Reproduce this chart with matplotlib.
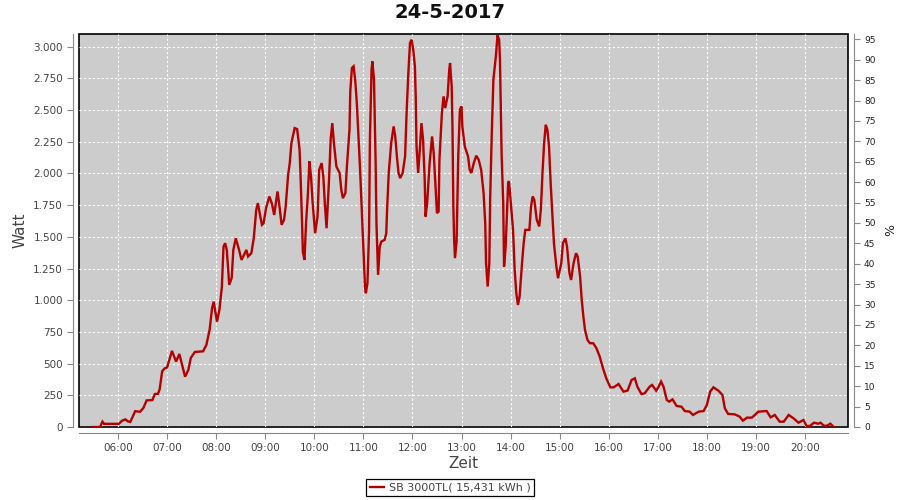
import numpy as np
import matplotlib
matplotlib.use("Agg")
import matplotlib.pyplot as plt
from matplotlib.ticker import FuncFormatter, MultipleLocator

# values (time of day, watt)
times = ["05:29", "05:38", "05:41", "05:43", "06:01", "06:05", "06:09", "06:12", "06:15", "06:21",
         "06:27", "06:31", "06:35", "06:42", "06:45", "06:49", "06:51", "06:54", "06:57", "07:00",
         "07:04", "07:06", "07:11", "07:15", "07:18", "07:22", "07:26", "07:29", "07:34", "07:44",
         "07:48", "07:52", "07:55", "07:57", "08:01", "08:04", "08:07", "08:09", "08:11", "08:13",
         "08:16", "08:19", "08:21", "08:24", "08:28", "08:31", "08:37", "08:39", "08:43", "08:46",
         "08:49", "08:51", "08:54", "08:56", "08:58", "09:01", "09:05", "09:08", "09:11", "09:15",
         "09:17", "09:20", "09:23", "09:25", "09:28", "09:30", "09:32", "09:36", "09:39", "09:42",
         "09:43", "09:45", "09:46", "09:48", "09:50", "09:52", "09:54", "09:56", "09:58", "10:01",
         "10:04", "10:06", "10:09", "10:11", "10:13", "10:15", "10:18", "10:20", "10:22", "10:24",
         "10:27", "10:31", "10:33", "10:35", "10:38", "10:40", "10:43", "10:44", "10:46", "10:48",
         "10:50", "10:52", "10:54", "10:56", "10:58", "11:00", "11:02", "11:03", "11:05", "11:07",
         "11:08", "11:10", "11:11", "11:13", "11:15", "11:16", "11:18", "11:20", "11:22", "11:26",
         "11:28", "11:29", "11:31", "11:34", "11:37", "11:39", "11:41", "11:43", "11:45", "11:48",
         "11:51", "11:53", "11:55", "11:57", "11:59", "12:01", "12:03", "12:04", "12:05", "12:07",
         "12:09", "12:11", "12:13", "12:15", "12:16", "12:18", "12:21", "12:24", "12:26", "12:28",
         "12:30", "12:32", "12:33", "12:36", "12:38", "12:40", "12:43", "12:45", "12:46", "12:48",
         "12:49", "12:50", "12:51", "12:52", "12:54", "12:56", "12:58", "13:00", "13:01", "13:04",
         "13:08", "13:10", "13:12", "13:15", "13:18", "13:21", "13:24", "13:27", "13:29", "13:30",
         "13:32", "13:34", "13:35", "13:37", "13:39", "13:42", "13:44", "13:46", "13:47", "13:49",
         "13:51", "13:52", "13:54", "13:57", "13:58", "14:00", "14:03", "14:05", "14:07", "14:09",
         "14:11", "14:14", "14:16", "14:18", "14:23", "14:25", "14:27", "14:29", "14:32", "14:35",
         "14:37", "14:39", "14:41", "14:43", "14:45", "14:47", "14:49", "14:51", "14:53", "14:56",
         "14:58", "15:02", "15:04", "15:07", "15:09", "15:12", "15:14", "15:17", "15:20", "15:22",
         "15:25", "15:27", "15:29", "15:31", "15:34", "15:37", "15:41", "15:45", "15:49", "15:53",
         "15:57", "16:02", "16:06", "16:12", "16:18", "16:23", "16:28", "16:32", "16:35", "16:40",
         "16:44", "16:50", "16:53", "16:58", "17:01", "17:04", "17:07", "17:11", "17:14", "17:18",
         "17:23", "17:29", "17:33", "17:39", "17:43", "17:50", "17:56", "18:00", "18:04", "18:08",
         "18:14", "18:19", "18:22", "18:26", "18:34", "18:40", "18:44", "18:49", "18:55", "19:03",
         "19:13", "19:18", "19:23", "19:29", "19:34", "19:40", "19:46", "19:52", "19:58", "20:02",
         "20:06", "20:11", "20:16", "20:19", "20:23", "20:27", "20:31", "20:35"]
watt = [0, 0, 42, 25, 25, 50, 60, 45, 40, 125,
        120, 150, 210, 212, 260, 262, 300, 440, 462, 470,
        555, 600, 516, 576, 500, 397, 450, 545, 592, 597,
        647, 766, 937, 989, 831, 924, 1108, 1423, 1450, 1397,
        1121, 1176, 1397, 1489, 1397, 1318, 1397, 1345, 1371, 1489,
        1713, 1766, 1660, 1595, 1608, 1726, 1818, 1766, 1673, 1858,
        1766, 1595, 1634, 1739, 1989, 2082, 2239, 2358, 2350, 2187,
        2016, 1621, 1384, 1318, 1621, 1818, 2095, 1976, 1766, 1529,
        1660, 2029, 2082, 1976, 1753, 1568, 1950, 2266, 2397, 2239,
        2055, 2003, 1871, 1805, 1845, 2068, 2345, 2647, 2832, 2845,
        2740, 2555, 2292, 2029, 1713, 1411, 1108, 1055, 1134, 1555,
        2266, 2818, 2884, 2740, 2082, 1608, 1200, 1423, 1463, 1476,
        1529, 1713, 2003, 2239, 2371, 2292, 2134, 2003, 1963, 2003,
        2134, 2503, 2792, 3029, 3055, 2976, 2845, 2608, 2213, 2003,
        2187, 2397, 2266, 1950, 1660, 1766, 2082, 2292, 2160, 1924,
        1687, 1700, 2108, 2476, 2608, 2516, 2608, 2818, 2871, 2687,
        2345, 1739, 1476, 1332, 1463, 2134, 2503, 2529, 2371, 2213,
        2134, 2029, 2003, 2082, 2140, 2108, 2029, 1845, 1608, 1292,
        1108, 1292, 1792, 2318, 2740, 2924, 3090, 3055, 2897, 2160,
        1766, 1265, 1423, 1924, 1940, 1792, 1555, 1239, 1055, 963,
        1029, 1292, 1450, 1555, 1555, 1739, 1818, 1792, 1634, 1582,
        1713, 2003, 2239, 2384, 2345, 2213, 1924, 1687, 1450, 1265,
        1174, 1292, 1450, 1489, 1423, 1213, 1160, 1292, 1371, 1345,
        1187, 1003, 871, 766, 687, 661, 661, 621, 555, 463,
        384, 313, 313, 339, 279, 287, 371, 384, 318, 260,
        266, 318, 332, 287, 318, 358, 318, 213, 200, 218,
        166, 160, 126, 121, 95, 121, 126, 174, 279, 313,
        287, 253, 147, 103, 100, 82, 50, 74, 74, 121,
        126, 76, 95, 42, 42, 95, 68, 34, 55, 8,
        8, 34, 26, 34, 10, 10, 26, 0]

hour_ticks = list(range(6, 21))
watt_ticks = list(range(0, 3001, 250))
pct_ticks = list(range(0, 96, 5))

hours = np.array([int(t[:2]) + int(t[3:]) / 60 for t in times])

grey = "#444444"
axis_grey = "#888888"

fig = plt.figure(figsize=(9, 5), dpi=100)
ax = fig.add_axes([79 / 900, 1 - 427 / 500, (848 - 79) / 900, (427 - 34) / 500])
ax.set_facecolor("#cccccc")
ax.patch.set_edgecolor("black")
ax.patch.set_linewidth(1.2)

line, = ax.plot(hours, watt, color="#b40000", lw=1.7, solid_joinstyle="miter",
                label="SB 3000TL( 15,431 kWh )")

ax.set_xlim(5.205, 20.876)
ax.set_ylim(0, 3100)
ax.set_xticks(hour_ticks)
ax.set_xticklabels(["%02d:00" % h for h in hour_ticks])
ax.set_yticks(watt_ticks)
ax.yaxis.set_major_formatter(FuncFormatter(lambda v, p: "{:,}".format(int(v)).replace(",", ".")))
ax.grid(True, color="white", linestyle=(0, (2, 2)), linewidth=0.8)

for s in ["top", "right"]:
    ax.spines[s].set_visible(False)
for s in ["left", "bottom"]:
    ax.spines[s].set_position(("outward", 4))
    ax.spines[s].set_color(axis_grey)
ax.tick_params(direction="out", length=4, color=axis_grey, labelcolor=grey, labelsize=7.5)

ax.set_xlabel("Zeit", fontsize=11, color=grey, labelpad=2)
ax.set_ylabel("Watt", fontsize=11, color=grey, labelpad=4)

ax2 = ax.twinx()
ax2.set_ylim(0, 96.3)
ax2.set_yticks(pct_ticks)
for s in ["top", "left", "bottom"]:
    ax2.spines[s].set_visible(False)
ax2.spines["right"].set_position(("outward", 4))
ax2.spines["right"].set_color(axis_grey)
ax2.tick_params(direction="out", length=4, color=axis_grey, labelcolor="#222222", labelsize=6.5)
ax2.set_ylabel("%", fontsize=9, color="#222222", labelpad=6)

fig.suptitle("24-5-2017", fontsize=14, fontweight="bold", color="#111111", y=0.995)

leg = fig.legend(handles=[line], loc="lower center", bbox_to_anchor=(0.5, 0.003),
                 fontsize=8, frameon=True, fancybox=False, framealpha=1,
                 edgecolor="black", handlelength=1.3, handletextpad=0.4,
                 borderpad=0.35, borderaxespad=0.2)
leg.get_frame().set_linewidth(0.9)
for t in leg.get_texts():
    t.set_color(grey)

fig.savefig("out.png", dpi=100)
